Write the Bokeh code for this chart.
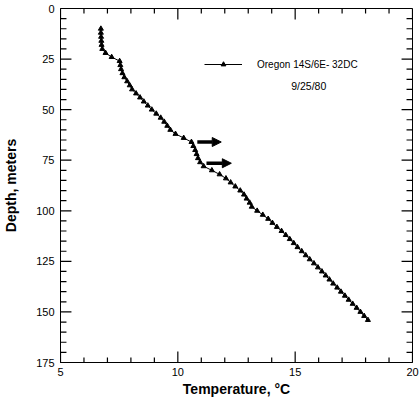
from bokeh.plotting import figure
from bokeh.models import (Range1d, SingleIntervalTicker, Legend, LegendItem,
                          Arrow, NormalHead, Label, ColumnDataSource)
from bokeh.embed import file_html
from bokeh.resources import INLINE

# ---- data ----
depth_m = [10, 12, 14, 16, 18, 20, 22, 24, 26, 28, 30, 32, 34, 36, 38, 40, 42, 44, 46, 48,
           50, 52, 54, 56, 58, 60, 62, 64, 66, 68, 70, 72, 74, 76, 78, 80, 82, 84, 86, 88,
           90, 92, 94, 96, 98, 100, 102, 104, 106, 108, 110, 112, 114, 116, 118, 120, 122,
           124, 126, 128, 130, 132, 134, 136, 138, 140, 142, 144, 146, 148, 150, 152, 154]
temp_c = [6.72, 6.72, 6.73, 6.74, 6.75, 6.78, 6.92, 7.18, 7.52, 7.55, 7.58, 7.64, 7.72, 7.84,
          7.95, 8.05, 8.22, 8.39, 8.55, 8.72, 8.89, 9.08, 9.27, 9.42, 9.55, 9.68, 9.90, 10.25,
          10.58, 10.66, 10.74, 10.80, 10.86, 10.95, 11.10, 11.45, 11.78, 12.05, 12.25, 12.45,
          12.66, 12.82, 12.93, 13.06, 13.15, 13.38, 13.62, 13.85, 14.03, 14.22, 14.42, 14.60,
          14.77, 14.94, 15.10, 15.28, 15.45, 15.62, 15.80, 15.97, 16.14, 16.30, 16.46, 16.62,
          16.79, 16.95, 17.12, 17.28, 17.45, 17.62, 17.78, 17.94, 18.10]
series_label = "Oregon 14S/6E- 32DC"
date_label = "9/25/80"
arrow_depths = [66.0, 76.5]
arrow_start_temps = [10.83, 11.22]
arrow_end_temps = [11.85, 12.28]
x_title = "Temperature, \u00b0C"
y_title = "Depth, meters"

# tick positions (axis scale)
x_major_ticks = [5, 10, 15, 20]
x_minor_ticks = [6, 7, 8, 9, 11, 12, 13, 14, 16, 17, 18, 19]
y_major_ticks = [0, 25, 50, 75, 100, 125, 150, 175]
y_minor_ticks = [5, 10, 15, 20, 30, 35, 40, 45, 55, 60, 65, 70, 80, 85, 90, 95,
                 105, 110, 115, 120, 130, 135, 140, 145, 155, 160, 165, 170]
X_MIN, X_MAX = 5, 20
Y_TOP, Y_BOTTOM = 0, 175

FONT = "Liberation Sans"
W, H = 420, 399
BL, BR, BT, BB = 58, 8, 8, 36

p = figure(width=W, height=H, output_backend="svg", toolbar_location=None,
           x_range=Range1d(X_MIN, X_MAX), y_range=Range1d(Y_BOTTOM, Y_TOP),
           min_border_left=BL, min_border_right=BR, min_border_top=BT, min_border_bottom=BB,
           x_axis_label=x_title, y_axis_label=y_title)
p.grid.visible = False
p.outline_line_color = "black"
p.outline_line_width = 1

p.xaxis.ticker = SingleIntervalTicker(interval=5, num_minor_ticks=5)
p.yaxis.ticker = SingleIntervalTicker(interval=25, num_minor_ticks=5)
for ax in (p.xaxis[0], p.yaxis[0]):
    ax.axis_line_color = "black"
    ax.major_tick_in = 0
    ax.major_tick_out = 0
    ax.minor_tick_in = 0
    ax.minor_tick_out = 0
    ax.major_label_text_font = FONT
    ax.major_label_text_font_size = "11px"
    ax.major_label_text_color = "black"
    ax.axis_label_text_font = FONT
    ax.axis_label_text_font_size = "14px"
    ax.axis_label_text_font_style = "bold"
    ax.axis_label_text_color = "black"
p.xaxis.major_label_standoff = 5
p.xaxis.axis_label_standoff = 2
p.yaxis.major_label_standoff = 6
p.yaxis.axis_label_standoff = 14

# inward tick marks on all four sides (pixel lengths converted to axis units)
px_x = (X_MAX - X_MIN) / (W - BL - BR)
px_y = (Y_BOTTOM - Y_TOP) / (H - BT - BB)
TICK_COLOR = "black"

def hticks(ys, length_px):
    src_l = ColumnDataSource(dict(x0=[X_MIN] * len(ys), x1=[X_MIN + length_px * px_x] * len(ys), y=list(ys)))
    src_r = ColumnDataSource(dict(x0=[X_MAX] * len(ys), x1=[X_MAX - length_px * px_x] * len(ys), y=list(ys)))
    for s in (src_l, src_r):
        p.segment(x0="x0", y0="y", x1="x1", y1="y", source=s,
                  line_color=TICK_COLOR, line_width=1.2)

def vticks(xs, length_px):
    src_b = ColumnDataSource(dict(x=list(xs), y0=[Y_BOTTOM] * len(xs), y1=[Y_BOTTOM - length_px * px_y] * len(xs)))
    src_t = ColumnDataSource(dict(x=list(xs), y0=[Y_TOP] * len(xs), y1=[Y_TOP + length_px * px_y] * len(xs)))
    for s in (src_b, src_t):
        p.segment(x0="x", y0="y0", x1="x", y1="y1", source=s,
                  line_color=TICK_COLOR, line_width=1.2)

hticks(y_major_ticks, 11)
hticks(y_minor_ticks, 6)
vticks(x_major_ticks, 11)
vticks(x_minor_ticks, 5)

src = ColumnDataSource(dict(t=temp_c, d=depth_m))
ln = p.line("t", "d", source=src, line_color="black", line_width=1)
sc = p.scatter("t", "d", source=src, marker="triangle", size=5,
               fill_color="black", line_color="black")
# larger marker used only for the legend swatch
sc_leg = p.scatter("t", "d", source=src, marker="triangle", size=10,
                   fill_color="black", line_color="black", visible=False)

for d, t0, t1 in zip(arrow_depths, arrow_start_temps, arrow_end_temps):
    p.add_layout(Arrow(x_start=t0, y_start=d, x_end=t1, y_end=d,
                       line_width=3.5, line_color="black",
                       end=NormalHead(size=9, fill_color="black", line_color="black")))

legend = Legend(items=[LegendItem(label=series_label, renderers=[ln, sc_leg])],
                location=(144, 292), border_line_color=None, background_fill_alpha=0,
                padding=0, margin=0, glyph_width=38, glyph_height=12, label_height=12,
                label_standoff=15, label_text_font=FONT, label_text_font_size="10px",
                label_text_color="black")
p.add_layout(legend, "center")

p.add_layout(Label(x=15.58, y=38.2, text=date_label, text_align="center",
                   text_baseline="middle", text_font=FONT, text_font_size="10.5px",
                   text_color="black"))

open("out.html", "w").write(file_html(p, INLINE))
